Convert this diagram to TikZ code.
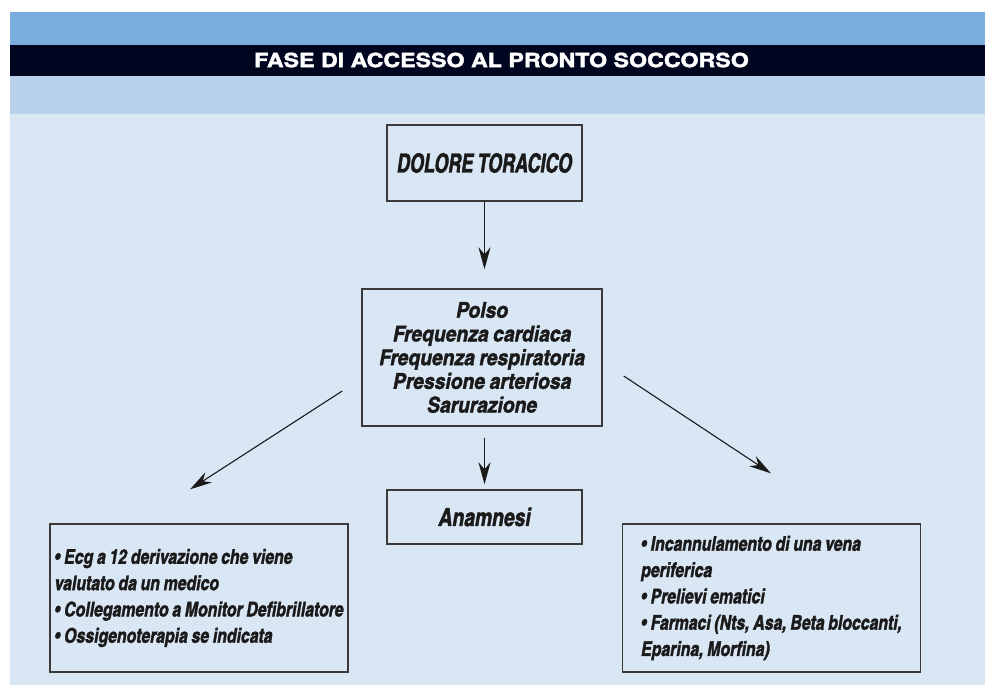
\documentclass[tikz,border=0pt]{standalone}
\usepackage{fontspec}
\setmainfont{TeX Gyre Heros}
\newfontfamily\cnfont{texgyreheroscn-bolditalic.otf}[FakeBold=1.6, WordSpace=0.85]
\newfontfamily\titlefont{texgyreheros-bold.otf}[FakeBold=1.8]
\usetikzlibrary{arrows.meta,positioning}

\definecolor{bandtop}{HTML}{7BAEDE}
\definecolor{bandtitle}{HTML}{000520}
\definecolor{bandsub}{HTML}{BAD1EC}
\definecolor{panel}{HTML}{D9E6F4}
\definecolor{edge}{HTML}{3A3A3A}
\definecolor{ink}{HTML}{1A1A1A}

\newcommand{\bul}{•\hspace{4pt}}

\tikzset{
  box/.style={draw=edge, line width=1.4pt, inner sep=0pt, text=ink},
  listbox/.style={box, minimum width=298pt, minimum height=148pt, align=left,
    font={\cnfont\addfontfeatures{FakeStretch=0.95}\fontsize{20.3}{26.3}\selectfont}},
  arr/.style={draw=ink, line width=1.1pt, -{Stealth[length=22pt,width=12pt,inset=7pt]}},
}

\begin{document}
\begin{tikzpicture}[x=1pt, y=-1pt]
  \useasboundingbox (0,0) rectangle (985,685);
  \fill[white] (0,0) rectangle (985,685);
  % bands and panel
  \fill[bandtop]   (10,12)  rectangle (985,45);
  \fill[bandtitle] (10,45)  rectangle (985,76);
  \fill[bandsub]   (10,76)  rectangle (985,114);
  \fill[panel]     (10,114) rectangle (985,685);
  \node[text=white, font={\titlefont\fontsize{19.5}{20}\selectfont}] (title) at (501.5,60)
    {\scalebox{1.19}[1]{FASE DI ACCESSO AL PRONTO SOCCORSO}};

  \node[box, minimum width=195pt, minimum height=76pt,
    font={\cnfont\addfontfeatures{FakeStretch=0.83}\fontsize{26.4}{30}\selectfont}] (dolore) at (484.5,163) {DOLORE TORACICO};
  \node[box, minimum width=240pt, minimum height=137pt, align=center,
    font={\cnfont\addfontfeatures{FakeStretch=1.08}\fontsize{21.8}{23.7}\selectfont}] (param) at (482,357.5)
    {Polso\\Frequenza cardiaca\\Frequenza respiratoria\\Pressione arteriosa\\Sarurazione};
  \node[box, minimum width=195pt, minimum height=54pt,
    font={\cnfont\addfontfeatures{FakeStretch=0.94}\fontsize{25}{30}\selectfont}] (anamnesi) at (484.5,517) {Anamnesi};
  \node[listbox] (ecg) at (199,598)
    {\bul Ecg a 12 derivazione che viene\\valutato da un medico\\\bul Collegamento a Monitor Defibrillatore\\\bul Ossigenoterapia se indicata};
  \node[listbox] (vena) at (771.5,598)
    {\bul Incannulamento di una vena\\periferica\\\bul Prelievi ematici\\\bul Farmaci (Nts, Asa, Beta bloccanti,\\Eparina, Morfina)};

  % connectors
  \draw[arr, shorten >=19pt] (dolore.south) -- (dolore.south |- param.north);
  \draw[arr, shorten <=11pt, shorten >=5pt] (param.south -| anamnesi.north) -- (anamnesi.north);
  \draw[arr, shorten <=22.6pt, shorten >=62.6pt] ([yshift=-21.2pt]param.west) -- ([xshift=-61.5pt]ecg.north);
  \draw[arr, shorten <=25.2pt, shorten >=90.6pt] ([yshift=-4.6pt]param.east) -- ([xshift=75pt]vena.north);
\end{tikzpicture}
\end{document}
